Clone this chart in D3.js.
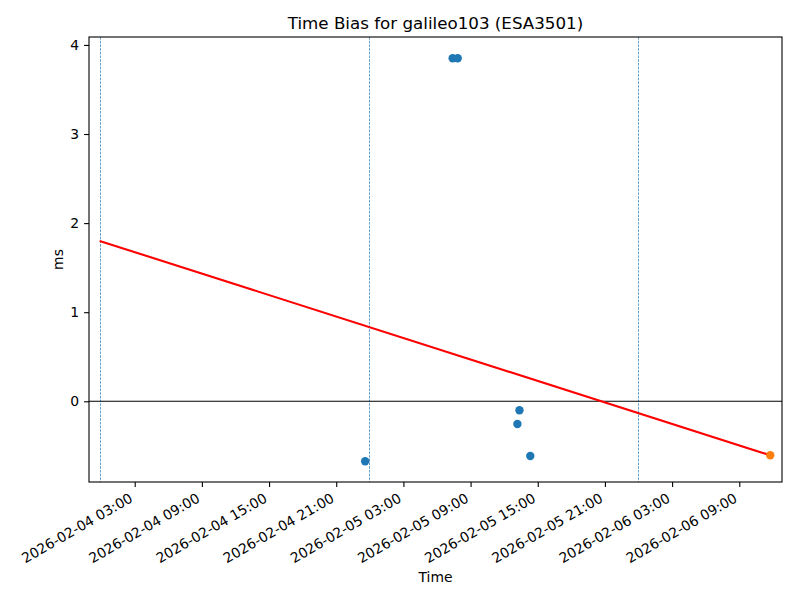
<!DOCTYPE html>
<html>
<head>
<meta charset="utf-8">
<script src="https://cdn.jsdelivr.net/npm/d3@7"></script>
<style>
  body { margin: 0; background: #fff; }
  svg { display: block; }
  text { font-family: "DejaVu Sans", sans-serif; fill: #000; }
</style>
</head>
<body>
<svg id="chart" width="800" height="600"></svg>
<script>
// ---- data ----
const titleText = "Time Bias for galileo103 (ESA3501)";
const xDomain = ["2026-02-03T22:55:00Z", "2026-02-06T12:49:00Z"];
const yDomain = [-0.906, 4.089];
const xTickLabels = [
  "2026-02-04T03:00:00Z", "2026-02-04T09:00:00Z", "2026-02-04T15:00:00Z",
  "2026-02-04T21:00:00Z", "2026-02-05T03:00:00Z", "2026-02-05T09:00:00Z",
  "2026-02-05T15:00:00Z", "2026-02-05T21:00:00Z", "2026-02-06T03:00:00Z",
  "2026-02-06T09:00:00Z"
];
const yTicks = [0, 1, 2, 3, 4];
const dayLines = ["2026-02-04T00:00:00Z", "2026-02-05T00:00:00Z", "2026-02-06T00:00:00Z"];
const biasTimes = [
  "2026-02-04T23:35:00Z", "2026-02-05T07:24:00Z", "2026-02-05T07:51:00Z",
  "2026-02-05T13:11:00Z", "2026-02-05T13:22:00Z", "2026-02-05T14:20:00Z"
];
const biasValues = [-0.673, 3.85, 3.85, -0.255, -0.101, -0.614];
const latestTime = ["2026-02-06T11:46:00Z"];
const latestValue = [-0.606];
const fitTimes = ["2026-02-03T23:52:00Z", "2026-02-06T11:46:00Z"];
const fitValues = [1.80, -0.606];

// ---- layout ----
const W = 800, H = 600;
const L = 89, R = 782, T = 37, B = 482;
const svg = d3.select("#chart");
const parse = d3.utcParse("%Y-%m-%dT%H:%M:%SZ");
const x = d3.scaleUtc().domain(xDomain.map(parse)).range([L, R]);
const y = d3.scaleLinear().domain(yDomain).range([B, T]);
const fmt = d3.utcFormat("%Y-%m-%d %H:%M");

const plot = svg.append("g");
// clip
svg.append("defs").append("clipPath").attr("id", "clip")
  .append("rect").attr("x", L).attr("y", T).attr("width", R - L).attr("height", B - T);
const inner = plot.append("g").attr("clip-path", "url(#clip)");

// vertical day lines
inner.selectAll("line.day").data(dayLines.map(parse)).join("line")
  .attr("class", "day")
  .attr("x1", d => Math.round(x(d)) - 0.5).attr("x2", d => Math.round(x(d)) - 0.5)
  .attr("y1", T).attr("y2", B)
  .attr("stroke", "#1f77b4").attr("stroke-width", 0.7)
  .attr("stroke-dasharray", "2.6,1.1");

// zero line
inner.append("line")
  .attr("x1", L).attr("x2", R)
  .attr("y1", y(0)).attr("y2", y(0))
  .attr("stroke", "#000").attr("stroke-width", 1.1);

// fit line
const fitData = fitTimes.map((t, i) => ({t: parse(t), v: fitValues[i]}));
inner.append("path").datum(fitData)
  .attr("d", d3.line().x(d => x(d.t)).y(d => y(d.v)))
  .attr("fill", "none").attr("stroke", "#ff0000").attr("stroke-width", 2.1);

// bias points
const pts = biasTimes.map((t, i) => ({t: parse(t), v: biasValues[i]}));
inner.selectAll("circle.b").data(pts).join("circle")
  .attr("class", "b")
  .attr("cx", d => x(d.t)).attr("cy", d => y(d.v)).attr("r", 4.2)
  .attr("fill", "#1f77b4");

const lpts = latestTime.map((t, i) => ({t: parse(t), v: latestValue[i]}));
inner.selectAll("circle.l").data(lpts).join("circle")
  .attr("class", "l")
  .attr("cx", d => x(d.t)).attr("cy", d => y(d.v)).attr("r", 4.2)
  .attr("fill", "#ff7f0e");

// frame
plot.append("rect").attr("x", L).attr("y", T).attr("width", R - L).attr("height", B - T)
  .attr("fill", "none").attr("stroke", "#000").attr("stroke-width", 1.1);

// x axis
const xAxis = d3.axisBottom(x).tickValues(xTickLabels.map(parse)).tickFormat(fmt)
  .tickSize(4.9).tickPadding(4.9);
const gx = svg.append("g").attr("transform", `translate(0,${B})`).call(xAxis);
gx.select(".domain").remove();
gx.selectAll(".tick line").attr("stroke", "#000").attr("stroke-width", 1.1);
gx.selectAll(".tick text")
  .attr("font-size", 13.9)
  .attr("text-anchor", "end")
  .attr("y", 0).attr("dy", 0)
  .attr("transform", "translate(-1.5,19) rotate(-30)");

// y axis
const yAxis = d3.axisLeft(y).tickValues(yTicks).tickFormat(d3.format("d"))
  .tickSize(4.9).tickPadding(4.9);
const gy = svg.append("g").attr("transform", `translate(${L},0)`).call(yAxis);
gy.select(".domain").remove();
gy.selectAll(".tick line").attr("stroke", "#000").attr("stroke-width", 1.1);
gy.selectAll(".tick text").attr("font-size", 13.9);

// title and labels
svg.append("text").attr("x", (L + R) / 2).attr("y", 29)
  .attr("text-anchor", "middle").attr("font-size", 16.7).text(titleText);
svg.append("text").attr("x", (L + R) / 2).attr("y", 582)
  .attr("text-anchor", "middle").attr("font-size", 13.9).text("Time");
svg.append("text").attr("transform", `translate(63,${(T + B) / 2}) rotate(-90)`)
  .attr("text-anchor", "middle").attr("font-size", 13.9).text("ms");
</script>
</body>
</html>
